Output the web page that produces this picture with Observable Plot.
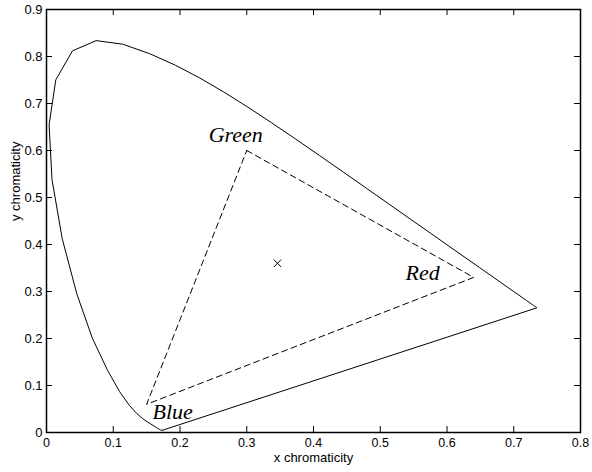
<!DOCTYPE html>
<html>
<head>
<meta charset="utf-8">
<script src="https://cdn.jsdelivr.net/npm/d3@7"></script>
<script src="https://cdn.jsdelivr.net/npm/@observablehq/plot@0.6"></script>
<style>
  html, body { margin: 0; padding: 0; background: #fff; }
  svg { display: block; }
</style>
</head>
<body>
<div id="chart"></div>
<script>
// CIE 1931 spectral locus (5 nm steps, 380–700 nm)
const wavelength = [380,385,390,395,400,405,410,415,420,425,430,435,440,445,450,455,460,465,470,475,480,485,490,495,500,505,510,515,520,525,530,535,540,545,550,555,560,565,570,575,580,585,590,595,600,605,610,615,620,625,630,635,640,645,650,655,660,665,670,675,680,685,690,695,700];
const locusX = [0.1741,0.1740,0.1738,0.1736,0.1733,0.1730,0.1726,0.1721,0.1714,0.1703,0.1689,0.1669,0.1644,0.1611,0.1566,0.1510,0.1440,0.1355,0.1241,0.1096,0.0913,0.0687,0.0454,0.0235,0.0082,0.0039,0.0139,0.0389,0.0743,0.1142,0.1547,0.1929,0.2296,0.2658,0.3016,0.3373,0.3731,0.4087,0.4441,0.4788,0.5125,0.5448,0.5752,0.6029,0.6270,0.6482,0.6658,0.6801,0.6915,0.7006,0.7079,0.7140,0.7190,0.7230,0.7260,0.7283,0.7300,0.7311,0.7320,0.7327,0.7334,0.7340,0.7344,0.7346,0.7347];
const locusY = [0.0050,0.0050,0.0049,0.0049,0.0048,0.0048,0.0048,0.0048,0.0051,0.0058,0.0069,0.0086,0.0109,0.0138,0.0177,0.0227,0.0297,0.0399,0.0578,0.0868,0.1327,0.2007,0.2950,0.4127,0.5384,0.6548,0.7502,0.8120,0.8338,0.8262,0.8059,0.7816,0.7543,0.7243,0.6923,0.6589,0.6245,0.5896,0.5547,0.5202,0.4866,0.4544,0.4242,0.3965,0.3725,0.3514,0.3340,0.3197,0.3083,0.2993,0.2920,0.2859,0.2809,0.2770,0.2740,0.2717,0.2700,0.2689,0.2680,0.2673,0.2666,0.2660,0.2656,0.2654,0.2653];

// Primaries (triangle) and labels
const primaryNames = ["Green", "Red", "Blue"];
const primaryX = [0.30, 0.64, 0.15];
const primaryY = [0.60, 0.33, 0.06];

// Marked point
const whiteX = [0.346];
const whiteY = [0.360];

// Tick values
const xTicks = [0, 0.1, 0.2, 0.3, 0.4, 0.5, 0.6, 0.7, 0.8];
const yTicks = [0, 0.1, 0.2, 0.3, 0.4, 0.5, 0.6, 0.7, 0.8, 0.9];

// Layout
const W = 592, H = 472;
const mL = 46, mR = 12, mT = 9, mB = 40;
const plotW = W - mL - mR, plotH = H - mT - mB;
const tickLen = 6;

// Build tables
const locus = wavelength.map((w, i) => ({w, x: locusX[i], y: locusY[i]}));
const locusClosed = [...locus, locus[0]];
const prim = primaryNames.map((n, i) => ({name: n, x: primaryX[i], y: primaryY[i]}));
const triangle = [...prim, prim[0]];
const labelOffsets = {Green: [-11, -16], Red: [-51, -4], Blue: [26, 8]};

const fmt = d => String(d);

const chart = Plot.plot({
  width: W,
  height: H,
  marginLeft: mL,
  marginRight: mR,
  marginTop: mT,
  marginBottom: mB,
  style: {fontFamily: "'Liberation Sans', Arial, Helvetica, sans-serif", fontSize: "13px", color: "black", background: "white"},
  x: {domain: [0, 0.8]},
  y: {domain: [0, 0.9]},
  marks: [
    Plot.line(locusClosed, {x: "x", y: "y", stroke: "black", strokeWidth: 1, curve: "linear"}),
    Plot.line(triangle, {x: "x", y: "y", stroke: "black", strokeWidth: 1, strokeDasharray: "6,4"}),
    Plot.dot({length: 1}, {x: whiteX, y: whiteY, symbol: "times", r: 3.5, stroke: "black", strokeWidth: 1}),
    ...prim.map(p => Plot.text([p], {
      x: "x", y: "y", text: "name",
      dx: labelOffsets[p.name][0], dy: labelOffsets[p.name][1],
      fontFamily: "'Liberation Serif', 'Times New Roman', serif",
      fontStyle: "italic", fontSize: 22, fill: "black", textAnchor: "middle"
    })),
    // inward ticks
    Plot.tickX(xTicks, {x: d => d, insetTop: plotH - tickLen, stroke: "black", strokeWidth: 1}),
    Plot.tickX(xTicks, {x: d => d, insetBottom: plotH - tickLen, stroke: "black", strokeWidth: 1}),
    Plot.tickY(yTicks, {y: d => d, insetRight: plotW - tickLen, stroke: "black", strokeWidth: 1}),
    Plot.tickY(yTicks, {y: d => d, insetLeft: plotW - tickLen, stroke: "black", strokeWidth: 1}),
    Plot.axisX(xTicks, {tickSize: 0, tickPadding: 6, tickFormat: fmt, label: null, fontSize: 12.5}),
    Plot.axisY(yTicks, {tickSize: 0, tickPadding: 4, tickFormat: fmt, label: null, fontSize: 13}),
    Plot.frame({stroke: "black", strokeWidth: 1.5}),
    Plot.text(["x chromaticity"], {frameAnchor: "bottom", dy: 29, fontSize: 13, fill: "black"}),
    Plot.text(["y chromaticity"], {frameAnchor: "left", dx: -31, rotate: -90, fontSize: 13, fill: "black"})
  ]
});

document.getElementById("chart").appendChild(chart);
</script>
</body>
</html>
